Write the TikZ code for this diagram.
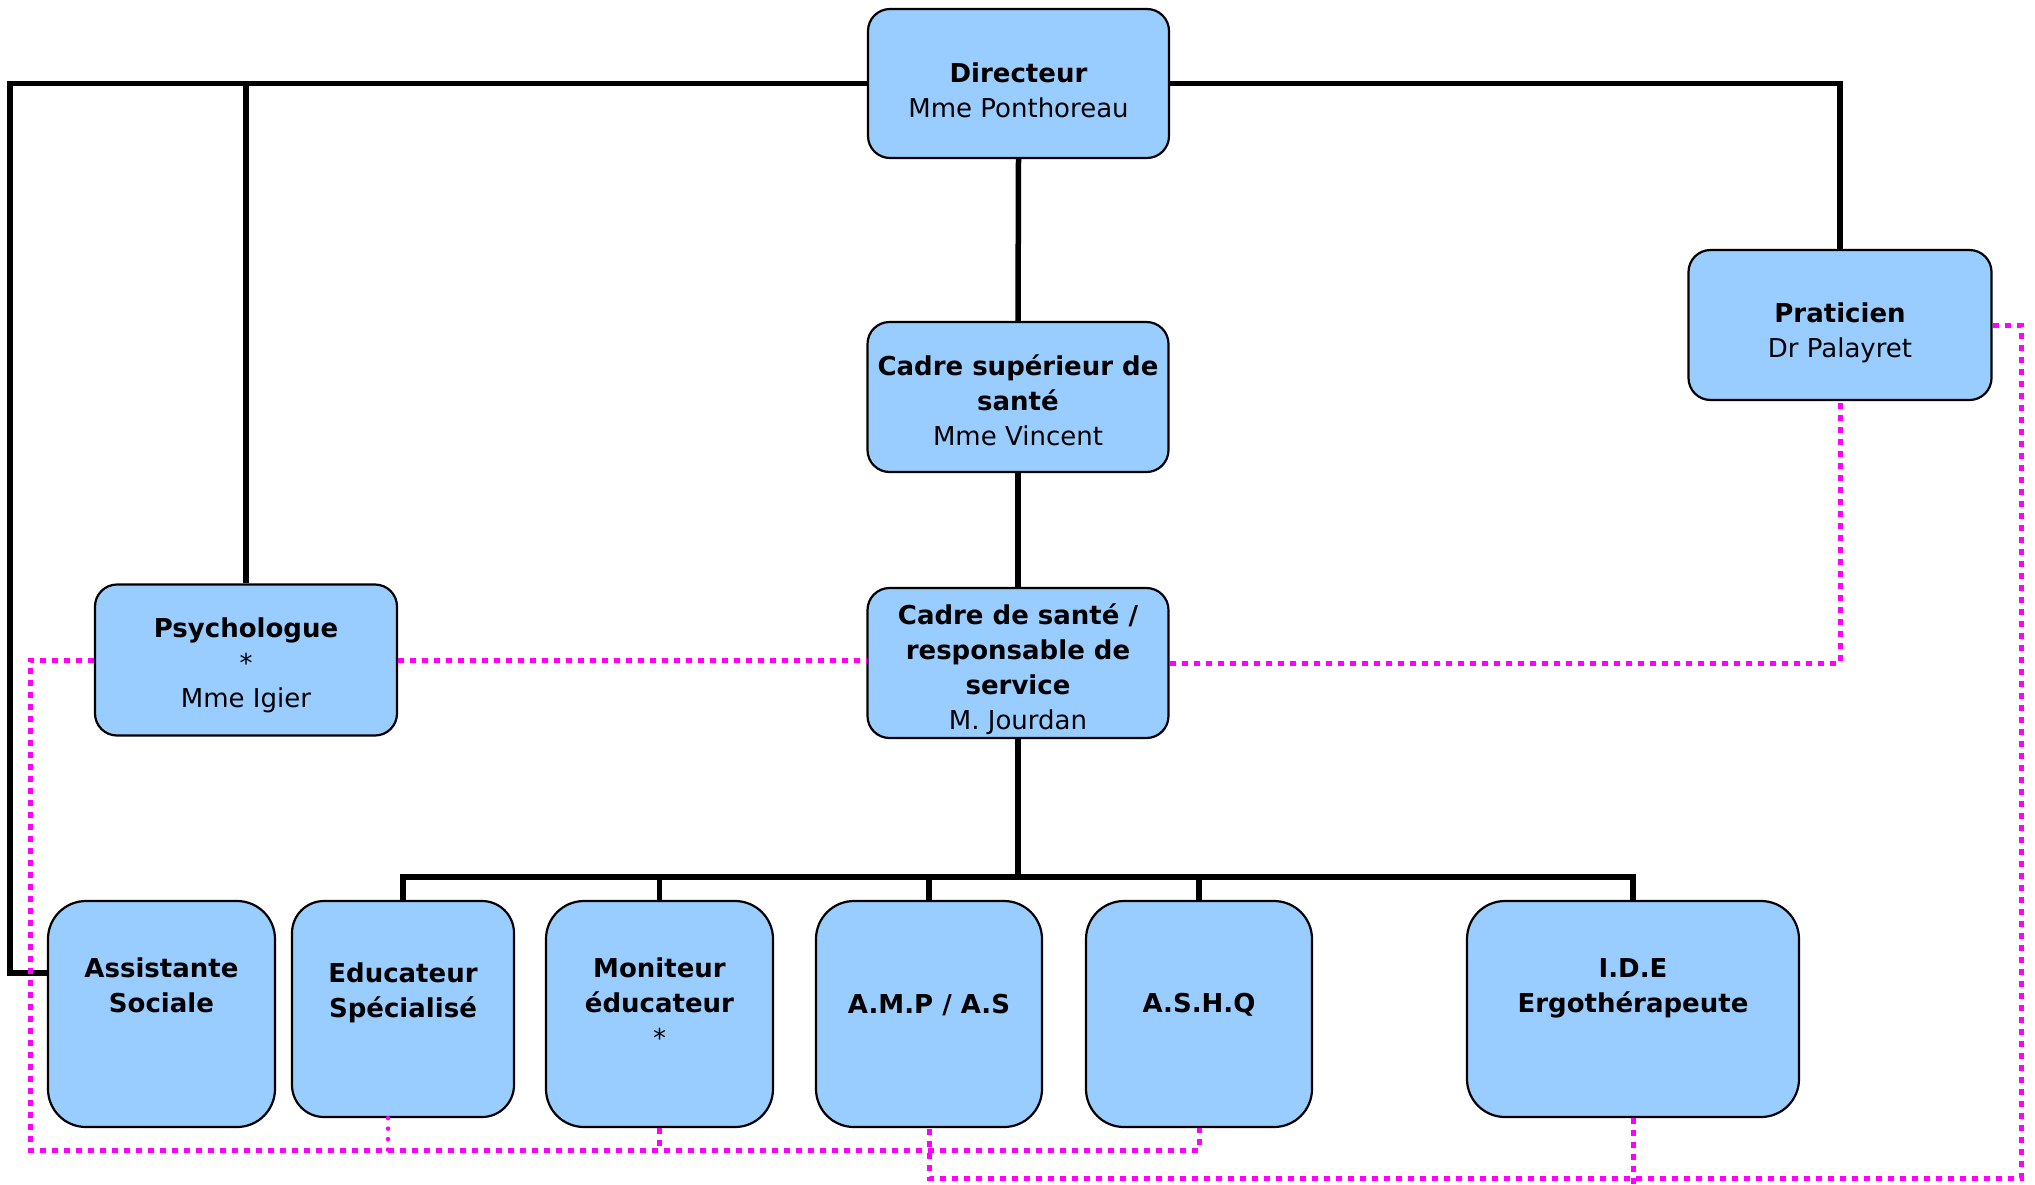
\documentclass[tikz,border=0pt]{standalone}
\usepackage{fontspec}
\setmainfont{DejaVu Sans}
\definecolor{boxblue}{HTML}{99CCFF}
\definecolor{mag}{HTML}{FF00FF}
\tikzset{
  box/.style={draw=black, line width=2.2pt, fill=boxblue, rounded corners=22pt, inner sep=0pt},
  bigbox/.style={box, rounded corners=38pt},
  conn/.style={draw=black, line width=5.5pt},
  magline/.style={draw=mag, line width=5pt, dash pattern=on 6pt off 6pt},
  magdot/.style={draw=mag, line width=4.5pt, line cap=round, dash pattern=on 0pt off 10.5pt},
  lbl/.style={align=center, inner sep=0pt, font=\fontsize{26}{35}\selectfont}
}
\begin{document}
\begin{tikzpicture}[x=1pt, y=-1pt]
\useasboundingbox (0,0) rectangle (2035,1184);
% top boxes
\node[box, minimum width=301pt, minimum height=149pt] (dir) at (1018.5,83.5) {};
\node[box, minimum width=301pt, minimum height=150pt] (csup) at (1018,397) {};
\node[box, minimum width=301pt, minimum height=150pt] (csa) at (1018,663) {};
\node[box, minimum width=303pt, minimum height=150pt] (pra) at (1840,325) {};
\node[box, minimum width=302pt, minimum height=151pt] (psy) at (246,660) {};
% bottom boxes
\node[bigbox, minimum width=227pt, minimum height=226pt] (as) at (161.5,1014) {};
\node[box, rounded corners=32pt, minimum width=222pt, minimum height=216pt] (es) at (403,1009) {};
\node[bigbox, minimum width=227pt, minimum height=226pt] (me) at (659.5,1014) {};
\node[bigbox, minimum width=226pt, minimum height=226pt] (amp) at (929,1014) {};
\node[bigbox, minimum width=226pt, minimum height=226pt] (ashq) at (1199,1014) {};
\node[bigbox, minimum width=332pt, minimum height=216pt] (ide) at (1633,1009) {};
% labels
\node[lbl] (dirt) at (1018.5,90) {\textbf{Directeur}\\Mme Ponthoreau};
\node[lbl] (csupt) at (1018,400) {\textbf{Cadre supérieur de}\\\textbf{santé}\\Mme Vincent};
\node[lbl] (csat) at (1018,669) {\textbf{Cadre de santé /}\\\textbf{responsable de}\\\textbf{service}\\M. Jourdan};
\node[lbl] (prat) at (1840,333) {\textbf{Praticien}\\Dr Palayret};
\node[lbl] (psyt) at (246,665) {\textbf{Psychologue}\\*\\Mme Igier};
\node[lbl] (ast) at (161.5,985) {\textbf{Assistante}\\\textbf{Sociale}};
\node[lbl] (est) at (403,993) {\textbf{Educateur}\\\textbf{Spécialisé}};
\node[lbl] (met) at (659.5,1003) {\textbf{Moniteur}\\\textbf{éducateur}\\*};
\node[lbl] (ampt) at (929,1005) {\textbf{A.M.P / A.S}};
\node[lbl] (ashqt) at (1199,1005) {\textbf{A.S.H.Q}};
\node[lbl] (idet) at (1633,988) {\textbf{I.D.E}\\\textbf{Ergothérapeute}};
% black connectors
\coordinate (lc) at (10,973);
\coordinate (bus) at (1018,877);
\draw[conn] (dir.west) -| (psy.north);
\draw[conn] (dir.west) -| (lc) -- (lc -| as.west);
\draw[conn] (dir.east) -| (pra.north);
\draw[conn] (dir.south) -- (csup.north);
\draw[conn] (csup.south) -- (csa.north);
\draw[conn] (csa.south) -- (bus);
\draw[conn] (es.north) -- (es.north |- bus) -- (ide.north |- bus) -- (ide.north);
\foreach \n in {me,amp,ashq} \draw[conn] (\n.north) -- (\n.north |- bus);
% magenta dotted connectors
\coordinate (m1) at (30,1150);
\coordinate (m2) at (2021,1178);
\draw[magline] (psy.west) -| (m1) -| (ashq.south);
\draw[magline] (me.south) -- (me.south |- m1);
\draw[magdot] ([xshift=-15pt]es.south) -- ([xshift=-15pt]es.south |- m1);
\draw[magline] (psy.east) -- (psy.east -| csa.west);
\draw[magline] (csa.east) -| (pra.south);
\draw[magline] (pra.east) -| (m2) -| (amp.south);
\draw[magline] (ide.south) -- ++(0,67);
\end{tikzpicture}
\end{document}
